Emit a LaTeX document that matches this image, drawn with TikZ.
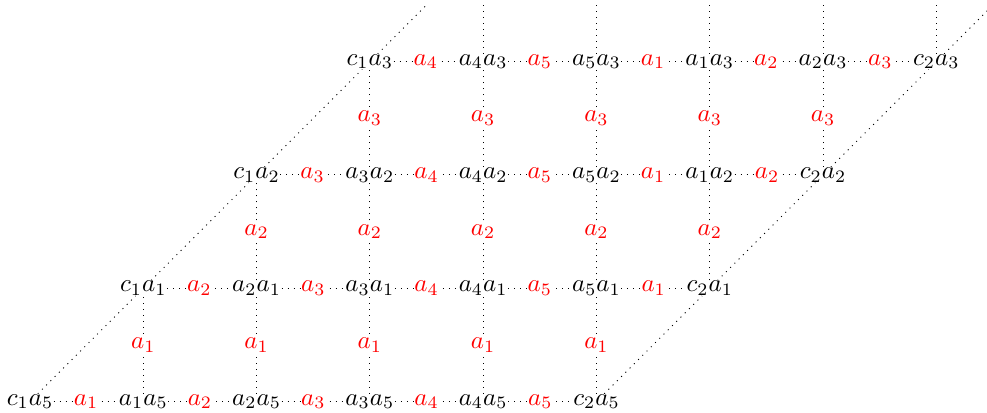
\documentclass[tikz,border=0pt]{standalone}
\begin{document}
\begin{tikzpicture}[x=45.33pt,y=45.33pt,
  cell/.style={inner sep=0pt},
  lab/.style={red, fill=white, inner sep=0.2pt},
  conn/.style={dotted, line width=0.4pt}]
\useasboundingbox (-0.265,-0.093) rectangle (8.447,3.544);
\clip (-0.265,-0.093) rectangle (8.447,3.544);
% row 0
\node[cell] (c1a5) at (0,0) {$c_1a_5$};
\node[cell] (a1a5) at (1,0) {$a_1a_5$};
\node[cell] (a2a5) at (2,0) {$a_2a_5$};
\node[cell] (a3a5) at (3,0) {$a_3a_5$};
\node[cell] (a4a5) at (4,0) {$a_4a_5$};
\node[cell] (c2a5) at (5,0) {$c_2a_5$};
% row 1
\node[cell] (c1a1) at (1,1) {$c_1a_1$};
\node[cell] (a2a1) at (2,1) {$a_2a_1$};
\node[cell] (a3a1) at (3,1) {$a_3a_1$};
\node[cell] (a4a1) at (4,1) {$a_4a_1$};
\node[cell] (a5a1) at (5,1) {$a_5a_1$};
\node[cell] (c2a1) at (6,1) {$c_2a_1$};
% row 2
\node[cell] (c1a2) at (2,2) {$c_1a_2$};
\node[cell] (a3a2) at (3,2) {$a_3a_2$};
\node[cell] (a4a2) at (4,2) {$a_4a_2$};
\node[cell] (a5a2) at (5,2) {$a_5a_2$};
\node[cell] (a1a2) at (6,2) {$a_1a_2$};
\node[cell] (c2a2) at (7,2) {$c_2a_2$};
% row 3
\node[cell] (c1a3) at (3,3) {$c_1a_3$};
\node[cell] (a4a3) at (4,3) {$a_4a_3$};
\node[cell] (a5a3) at (5,3) {$a_5a_3$};
\node[cell] (a1a3) at (6,3) {$a_1a_3$};
\node[cell] (a2a3) at (7,3) {$a_2a_3$};
\node[cell] (c2a3) at (8,3) {$c_2a_3$};
% free ends at the top
\coordinate (tl) at (3.5,3.5);
\coordinate (t4) at (4,3.5);
\coordinate (t5) at (5,3.5);
\coordinate (t6) at (6,3.5);
\coordinate (t7) at (7,3.5);
\coordinate (t8) at (8,3.5);
\coordinate (tr) at (8.5,3.5);
% horizontal connectors
\foreach \p/\q/\l in {c1a5/a1a5/1, a1a5/a2a5/2, a2a5/a3a5/3, a3a5/a4a5/4, a4a5/c2a5/5,
  c1a1/a2a1/2, a2a1/a3a1/3, a3a1/a4a1/4, a4a1/a5a1/5, a5a1/c2a1/1,
  c1a2/a3a2/3, a3a2/a4a2/4, a4a2/a5a2/5, a5a2/a1a2/1, a1a2/c2a2/2,
  c1a3/a4a3/4, a4a3/a5a3/5, a5a3/a1a3/1, a1a3/a2a3/2, a2a3/c2a3/3}
  \draw[conn] (\p) -- node[lab] {$a_{\l}$} (\q);
% vertical connectors
\foreach \p/\q/\l in {a1a5/c1a1/1, a2a5/a2a1/1, a3a5/a3a1/1, a4a5/a4a1/1, c2a5/a5a1/1,
  a2a1/c1a2/2, a3a1/a3a2/2, a4a1/a4a2/2, a5a1/a5a2/2, c2a1/a1a2/2,
  a3a2/c1a3/3, a4a2/a4a3/3, a5a2/a5a3/3, a1a2/a1a3/3, c2a2/a2a3/3}
  \draw[conn] (\p) -- node[lab] {$a_{\l}$} (\q);
\foreach \p/\q in {a4a3/t4, a5a3/t5, a1a3/t6, a2a3/t7, c2a3/t8}
  \draw[conn] (\p) -- (\q);
% diagonals
\draw[conn] (c1a5) -- (c1a1);
\draw[conn] (c1a1) -- (c1a2);
\draw[conn] (c1a2) -- (c1a3);
\draw[conn] (c1a3) -- (tl);
\draw[conn] (c2a5) -- (c2a1);
\draw[conn] (c2a1) -- (c2a2);
\draw[conn] (c2a2) -- (c2a3);
\draw[conn] (c2a3) -- (tr);
\end{tikzpicture}
\end{document}
